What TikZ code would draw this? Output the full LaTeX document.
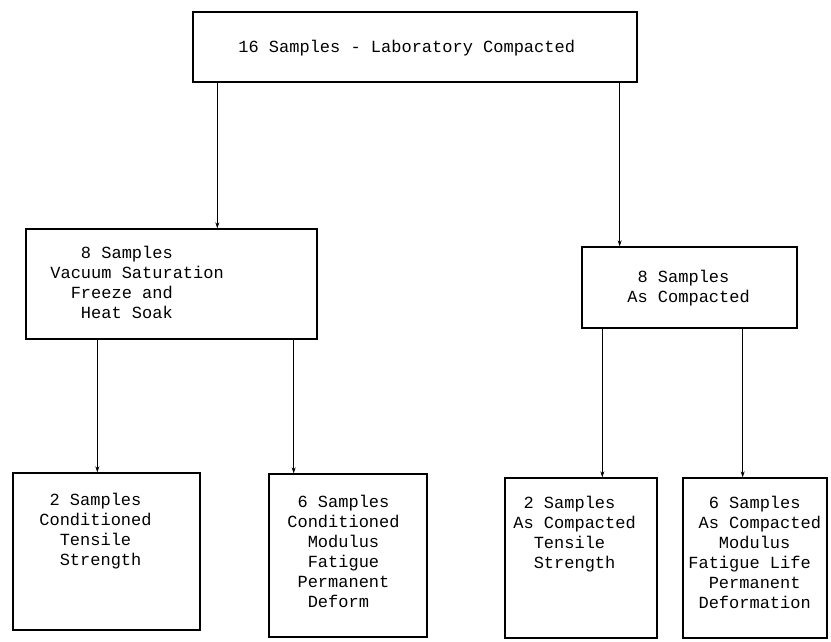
\documentclass[tikz,border=0pt]{standalone}
\usepackage{fontspec}
\setmonofont{Liberation Mono}
\usetikzlibrary{arrows.meta}

\tikzset{every picture/.style={line width=0.75pt}}
\tikzset{
  box/.style={draw, rectangle, line width=1.3pt, inner sep=0pt},
  txt/.style={anchor=north west, inner sep=0pt, align=left, font=\ttfamily\fontsize{17}{20}\selectfont},
  arr/.style={-{Stealth[length=6pt,width=4pt]}, line width=0.9pt}
}

\begin{document}
\begin{tikzpicture}[x=1pt,y=1pt,yscale=-1,xscale=1]
	\useasboundingbox (0,0) rectangle (831,641);
	
	%Shape: Rectangle [top]
	\node[box, minimum width=444, minimum height=70] (top) at (415,47) {};
	%Shape: Rectangle [left middle]
	\node[box, minimum width=291, minimum height=110] (lmid) at (171.5,284) {};
	%Shape: Rectangle [right middle]
	\node[box, minimum width=215, minimum height=81] (rmid) at (689.5,287.5) {};
	%Shape: Rectangle [bottom row]
	\node[box, minimum width=187, minimum height=157] (cts) at (106.5,551.5) {};
	\node[box, minimum width=158, minimum height=163] (cmf) at (348,555.5) {};
	\node[box, minimum width=152, minimum height=160] (ats) at (581,558) {};
	\node[box, minimum width=144, minimum height=160] (amf) at (755,558) {};
	
	%Straight Lines
	\draw[arr] ([xshift=25]top.south west) -- ([xshift=25]top.south west |- lmid.north);
	\draw[arr] ([xshift=-18]top.south east) -- ([xshift=-18]top.south east |- rmid.north);
	\draw[arr] ([xshift=72]lmid.south west) -- ([xshift=72]lmid.south west |- cts.north);
	\draw[arr] ([xshift=-24]lmid.south east) -- ([xshift=-24]lmid.south east |- cmf.north);
	\draw[arr] ([xshift=21]rmid.south west) -- ([xshift=21]rmid.south west |- ats.north);
	\draw[arr] ([xshift=-55]rmid.south east) -- ([xshift=-55]rmid.south east |- amf.north);
	
	% Text Node
	\node[txt] (t-top) at (238,40) {16 Samples - Laboratory Compacted};
	% Text Node
	\node[txt] (t-lmid) at (50,246) {~~~8 Samples\\Vacuum Saturation\\~~Freeze and\\~~~Heat Soak};
	% Text Node
	\node[txt] (t-rmid) at (627,270) {~8 Samples\\As Compacted};
	% Text Node
	\node[txt] (t-cts) at (39,493) {~2 Samples\\Conditioned\\~~Tensile\\~~Strength};
	% Text Node
	\node[txt] (t-cmf) at (287,495) {~6 Samples\\Conditioned\\~~Modulus\\~~Fatigue\\~Permanent\\~~Deform};
	% Text Node
	\node[txt] (t-ats) at (513,496) {~2 Samples\\As Compacted\\~~Tensile\\~~Strength};
	% Text Node
	\node[txt] (t-amf) at (688,496) {~~6 Samples\\~As Compacted\\~~~Modulus\\Fatigue Life\\~~Permanent\\~Deformation};
	
\end{tikzpicture}
\end{document}
